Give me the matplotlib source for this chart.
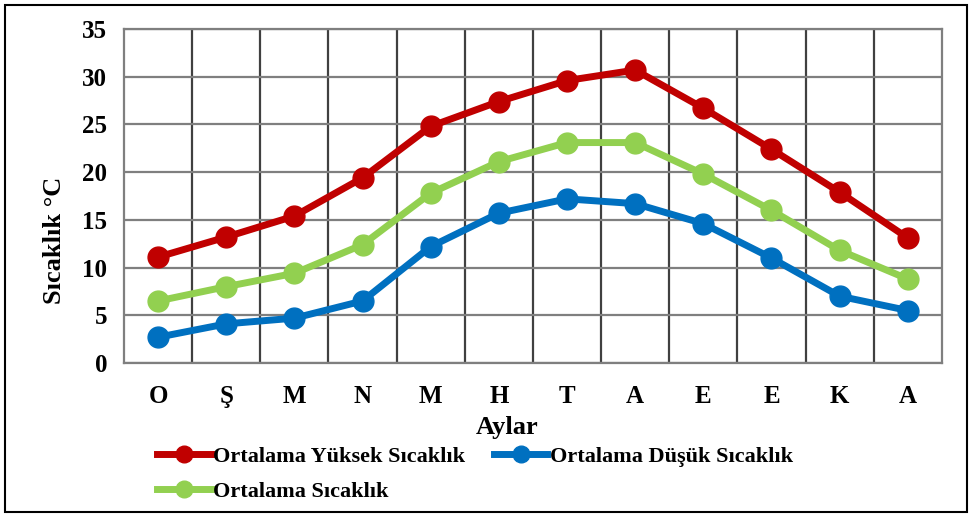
import matplotlib.pyplot as plt
from matplotlib.patches import Rectangle

months = ["O", "Ş", "M", "N", "M", "H", "T", "A", "E", "E", "K", "A"]
high = [11.1, 13.2, 15.4, 19.4, 24.8, 27.4, 29.6, 30.7, 26.7, 22.4, 17.9, 13.1]
low = [2.7, 4.1, 4.7, 6.5, 12.2, 15.7, 17.2, 16.7, 14.6, 11.0, 7.0, 5.5]
mean = [6.5, 8.0, 9.4, 12.4, 17.8, 21.1, 23.1, 23.1, 19.8, 16.0, 11.8, 8.8]

plt.rcParams["font.family"] = ["Liberation Serif", "DejaVu Serif"]
plt.rcParams["font.weight"] = "bold"

fig = plt.figure(figsize=(9.72, 5.17), dpi=100)
ax = fig.add_axes([0.1276, 0.2979, 0.8414, 0.646])

x = list(range(len(months)))
l_high, = ax.plot(x, high, color="#C00000", lw=5, marker="o", ms=15, label="Ortalama Yüksek Sıcaklık", zorder=3)
l_low, = ax.plot(x, low, color="#0070C0", lw=5, marker="o", ms=15, label="Ortalama Düşük Sıcaklık", zorder=3)
l_mean, = ax.plot(x, mean, color="#92D050", lw=5, marker="o", ms=15, label="Ortalama Sıcaklık", zorder=3)

ax.set_xlim(-0.5, len(months) - 0.5)
ax.set_ylim(0, 35)
ax.set_yticks(range(0, 36, 5))
ax.set_xticks(x)
ax.set_xticklabels(months)
ax.set_xticks([i + 0.5 for i in x[:-1]], minor=True)
ax.tick_params(which="both", length=0)
ax.tick_params(axis="both", labelsize=18)
ax.tick_params(axis="x", pad=16)
ax.tick_params(axis="y", pad=12)
ax.grid(True, axis="y", color="#7f7f7f", lw=1.6)
ax.grid(True, axis="x", which="minor", color="#404040", lw=1.6)
for s in ax.spines.values():
    s.set_color("#7f7f7f")
    s.set_linewidth(1.6)
ax.set_axisbelow(True)

ax.set_ylabel("Sıcaklık °C", fontsize=19, fontweight="bold")
ax.yaxis.set_label_coords(-0.071, 0.368)
ax.set_xlabel("Aylar", fontsize=19, fontweight="bold")
ax.xaxis.set_label_coords(0.469, -0.158)

leg = ax.legend([l_high, l_mean, l_low],
                [l_high.get_label(), l_mean.get_label(), l_low.get_label()],
                loc="upper left", bbox_to_anchor=(0.03, -0.224), ncol=2, frameon=False,
                fontsize=16, handlelength=2.4, handletextpad=0.1, columnspacing=1.3,
                labelspacing=0.65, borderaxespad=0)
for h in leg.legend_handles:
    h.set_markersize(12)

fig.patches.append(Rectangle((0.005, 0.01), 0.99, 0.98, transform=fig.transFigure,
                             fill=False, edgecolor="black", lw=1.5))

fig.savefig("out.png", dpi=100)
